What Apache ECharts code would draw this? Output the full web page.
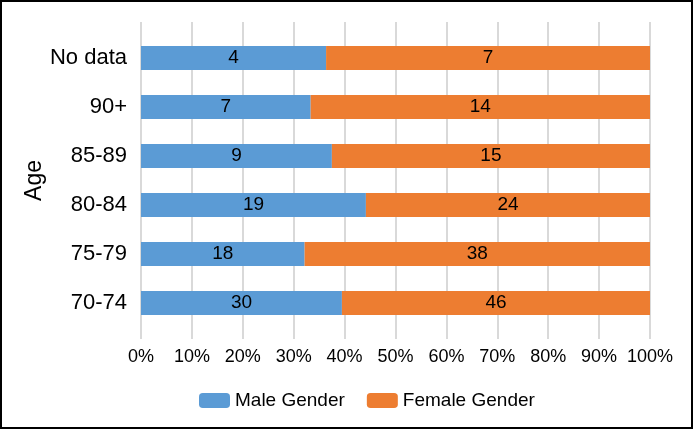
<!DOCTYPE html>
<html>
<head>
<meta charset="utf-8">
<script src="https://cdn.jsdelivr.net/npm/echarts@6/dist/echarts.min.js"></script>
<style>
html,body{margin:0;padding:0;background:#fff;}
#c{width:693px;height:429px;box-sizing:border-box;border:2px solid #000;}
</style>
</head>
<body>
<div id="c"></div>
<script>
var categories = ['70-74', '75-79', '80-84', '85-89', '90+', 'No data'];
var maleCounts = [30, 18, 19, 9, 7, 4];
var femaleCounts = [46, 38, 24, 15, 14, 7];
var xTicks = [0, 10, 20, 30, 40, 50, 60, 70, 80, 90, 100];

var malePct = maleCounts.map(function (m, i) { return m / (m + femaleCounts[i]) * 100; });
var femalePct = femaleCounts.map(function (f, i) { return f / (maleCounts[i] + f) * 100; });

var font = '"Liberation Sans", Arial, Helvetica, sans-serif';
var chart = echarts.init(document.getElementById('c'));
chart.setOption({
  animation: false,
  textStyle: { fontFamily: font, color: '#000' },
  grid: [
    { left: 139, right: 41, top: 20, bottom: 88 },
    { left: 139, right: 41, top: 31.5, height: 294 }
  ],
  xAxis: [
    {
      gridIndex: 0, type: 'value', min: xTicks[0], max: xTicks[xTicks.length - 1], interval: 10,
      axisLine: { show: false }, axisTick: { show: false },
      splitLine: { lineStyle: { color: '#d9d9d9', width: 2 } },
      axisLabel: { formatter: '{value}%', fontSize: 18, color: '#000', margin: 9, fontFamily: font }
    },
    {
      gridIndex: 1, type: 'value', min: 0, max: 100, show: false
    }
  ],
  yAxis: [
    { gridIndex: 0, type: 'value', show: false },
    {
      gridIndex: 1, type: 'category', data: categories,
      axisLine: { show: false }, axisTick: { show: false },
      axisLabel: { fontSize: 22, color: '#000', margin: 14, fontFamily: font },
      name: 'Age', nameLocation: 'middle', nameRotate: 90, nameGap: 95,
      nameMoveOverlap: false,
      nameTextStyle: { fontSize: 23, color: '#000', fontFamily: font }
    }
  ],
  legend: {
    bottom: 12, left: 192, itemWidth: 31, itemHeight: 15, itemGap: 22,
    textStyle: { fontSize: 19, color: '#000', fontFamily: font },
    data: ['Male Gender', 'Female Gender']
  },
  series: [
    {
      name: 'Male Gender', type: 'bar', stack: 'a', xAxisIndex: 1, yAxisIndex: 1,
      barWidth: 24, data: malePct,
      itemStyle: { color: '#5B9BD5' },
      label: { show: true, position: 'inside', color: '#000', fontSize: 19, fontFamily: font,
        formatter: function (p) { return maleCounts[p.dataIndex]; } }
    },
    {
      name: 'Female Gender', type: 'bar', stack: 'a', xAxisIndex: 1, yAxisIndex: 1,
      barWidth: 24, data: femalePct,
      itemStyle: { color: '#ED7D31' },
      label: { show: true, position: 'inside', color: '#000', fontSize: 19, fontFamily: font,
        formatter: function (p) { return femaleCounts[p.dataIndex]; } }
    }
  ]
});
</script>
</body>
</html>
